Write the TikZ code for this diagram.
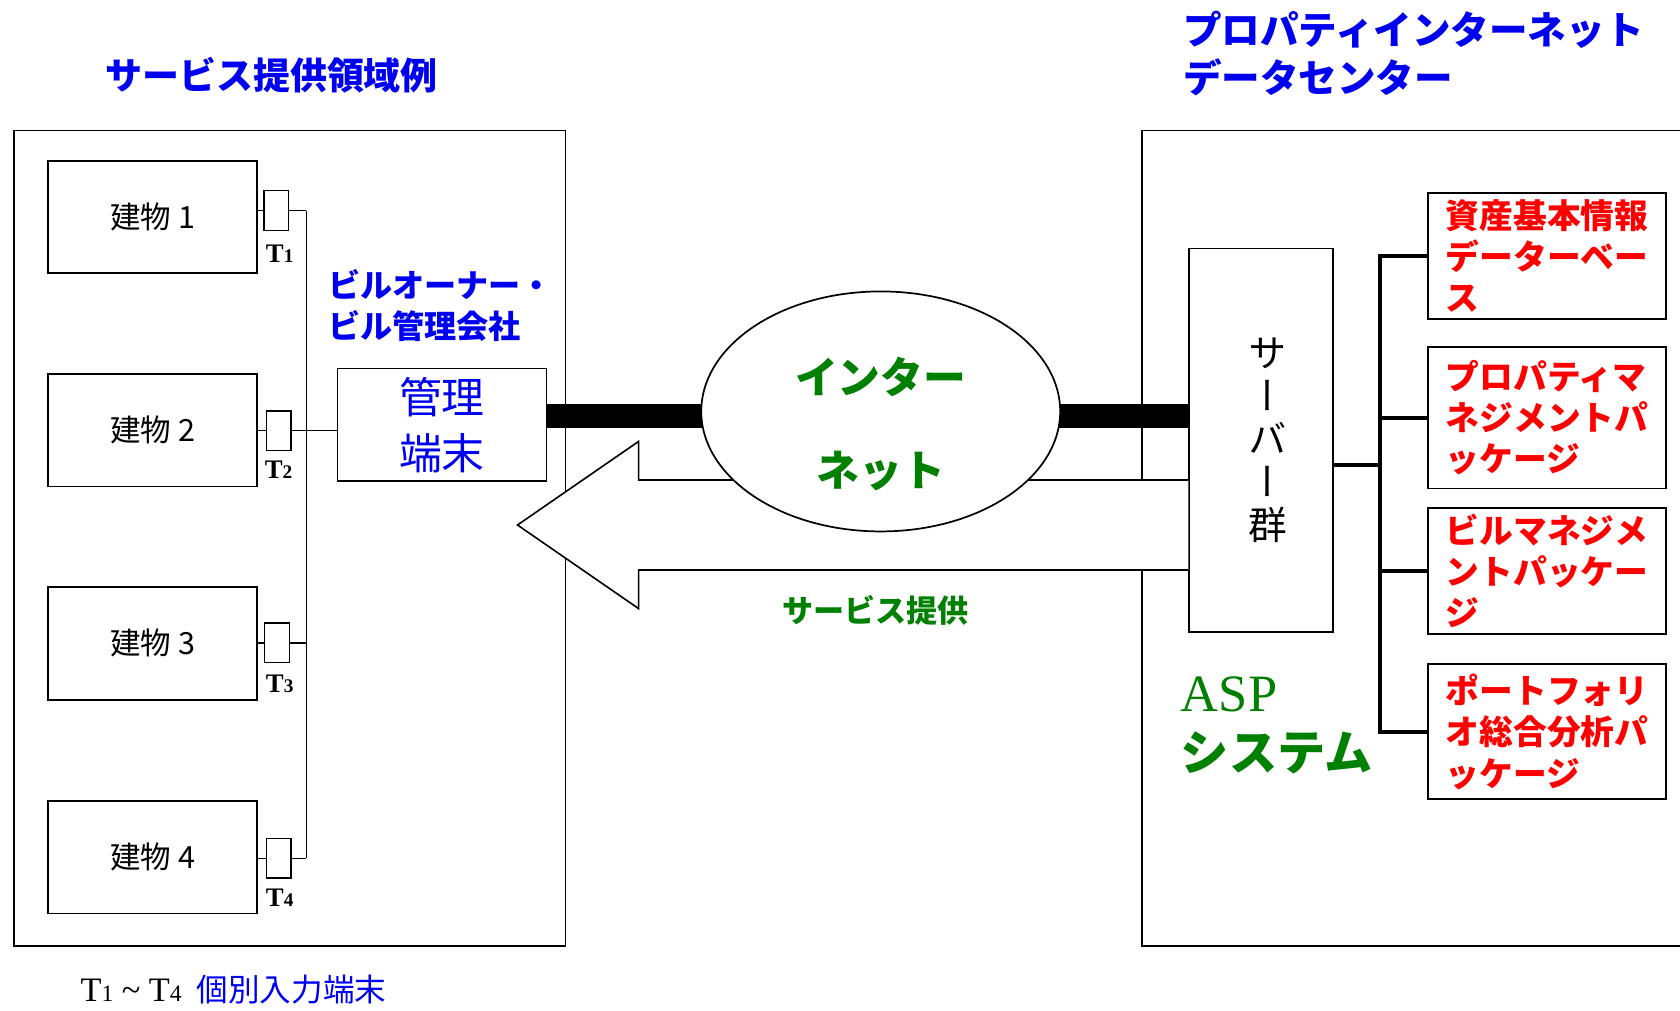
\documentclass[tikz,border=0pt]{standalone}
\usepackage{fontspec}
\setmainfont{Liberation Serif}
\newfontfamily\jp{Noto Sans CJK JP}
\newfontfamily\jpv[RawFeature=+vert]{Noto Sans CJK JP}
\usetikzlibrary{shapes.geometric}
\definecolor{jblue}{RGB}{0,0,240}
\definecolor{jred}{RGB}{255,0,0}
\definecolor{jgreen}{RGB}{0,128,0}
\newcommand\fsz[2]{\fontsize{#1}{#2}\selectfont}
\begin{document}
\begin{tikzpicture}[x=1pt,y=-1pt,
  boxst/.style={draw,line width=1.6pt,inner sep=0pt,fill=white},
  bldg/.style={boxst,minimum width=195pt,minimum height=105pt,font=\jp\fsz{28.5}{32}},
  term/.style={draw,line width=1.3pt,fill=white,minimum width=23pt,minimum height=37pt,inner sep=0pt},
  tlabel/.style={inner sep=0pt,font=\bfseries\fsz{25}{25}},
  wire/.style={line width=1.3pt},
  bar/.style={line width=22pt},
  branch/.style={line width=3.6pt},
  redbox/.style={boxst,minimum width=222pt,align=left,text=jred,font=\jp\bfseries\fsz{31.5}{38.5}},
  bluebold/.style={inner sep=0pt,align=left,text=jblue,font=\jp\bfseries\fsz{34.5}{44}},
  greenbold/.style={inner sep=0pt,text=jgreen,font=\jp\bfseries\fsz{40}{48}}
]
\useasboundingbox (0,0) rectangle (1568,943);

% containers
\node[boxst,anchor=north west,minimum width=515pt,minimum height=761pt] (leftarea) at (12,121) {};
\node[boxst,anchor=north west,minimum width=520pt,minimum height=761pt] (rightarea) at (1065,121) {};

% titles
\node[bluebold,anchor=west] (title1) at (98,70) {サービス提供領域例};
\node[bluebold,anchor=west,font=\jp\bfseries\fsz{36}{44}] (title2) at (1104,50) {プロパティインターネット\\データセンター};

% server box
\node[boxst,minimum width=134pt,minimum height=358pt] (srv) at (1177,411) {};

% big service arrow
\draw[line width=1.5pt,fill=white] (srv.west |- 0,448) -- (596,448) -- (596,412) -- (483,490)
  -- (596,568) -- (596,532) -- (srv.west |- 0,532);

% management terminal
\node[boxst,minimum width=195pt,minimum height=105pt,align=center,text=jblue,font=\jp\fsz{40}{52}] (kanri) at (412.5,396.5) {管理\\端末};

% internet ellipse and thick links
\coordinate (barL) at (kanri.east |- 0,388);
\coordinate (barR) at (srv.west |- 0,388);
\draw[bar] (barL) -- (822,388);
\draw[bar] (822,388) -- (barR);
\node[draw,ellipse,fill=white,line width=1.6pt,minimum width=335pt,minimum height=224pt] (net) at (822,384) {};
\node[greenbold] (net1) at (822,352) {インター};
\node[greenbold] (net2) at (822,440) {ネット};
\node[greenbold,font=\jp\bfseries\fsz{29}{29}] (svc) at (817,570) {サービス提供};

% owner label
\node[bluebold,anchor=west,font=\jp\bfseries\fsz{30}{38}] (owner) at (306,285) {ビルオーナー・\\ビル管理会社};

% buildings
\node[bldg] (b1) at (142.5,202.5) {建物 1};
\node[bldg] (b2) at (142.5,401.5) {建物 2};
\node[bldg] (b3) at (142.5,600.5) {建物 3};
\node[bldg] (b4) at (142.5,800) {建物 4};

% terminals
\node[term] (t1) at (258,196.5) {};
\node[term] (t2) at (260,402) {};
\node[term] (t3) at (258.5,600) {};
\node[term] (t4) at (260,801) {};
\node[tlabel] (l1) at (261,237) {T\fsz{18}{18}1};
\node[tlabel] (l2) at (260,438) {T\fsz{18}{18}2};
\node[tlabel] (l3) at (261,638) {T\fsz{18}{18}3};
\node[tlabel] (l4) at (261,838) {T\fsz{18}{18}4};

\coordinate (bus) at (286,0);
\foreach \i in {1,2,3,4}{
  \draw[wire] (b\i.east |- t\i) -- (t\i.west);
  \draw[wire] (t\i.east) -- (t\i.east -| bus);
}
\draw[wire] (t1.east -| bus) -- (t4.east -| bus);
\draw[wire] (t2.east -| bus) -- (kanri.west |- t2);

% server text
\node[inner sep=0pt,align=center,font=\jpv\fsz{36}{40}] (srvtxt) at (1183,411) {サ\\ー\\バ\\ー\\群};

% packages
\node[redbox] (r1) at (1444,239) [minimum height=118pt] {資産基本情報\\データーベー\\ス};
\node[redbox] (r2) at (1444,390) [minimum height=132pt] {プロパティマ\\ネジメントパ\\ッケージ};
\node[redbox] (r3) at (1444,533) [minimum height=118pt] {ビルマネジメ\\ントパッケー\\ジ};
\node[redbox] (r4) at (1444,683) [minimum height=126pt] {ポートフォリ\\オ総合分析パ\\ッケージ};

\coordinate (bb) at (1288,0);
\draw[branch] ([yshift=-23pt]srv.east) -- ([yshift=-23pt]srv.east -| bb);
\draw[branch] (r1.west) -- (r1.west -| bb) -- (r4.west -| bb) -- (r4.west);
\draw[branch] (r2.west) -- (r2.west -| bb);
\draw[branch] (r3.west) -- (r3.west -| bb);

% ASP system
\node[inner sep=0pt,anchor=west,text=jgreen,font=\fsz{49}{49}] (asp) at (1102,648) {ASP};
\node[inner sep=0pt,anchor=west,text=jgreen,font=\jp\bfseries\fsz{45}{45}] (aspsys) at (1102,703) {システム};

% footnote
\node[inner sep=0pt,anchor=west] (foot) at (75,924) {\fsz{32}{32}T\fsz{22}{22}1\fsz{32}{32} \textasciitilde{} T\fsz{22}{22}4\hspace{14pt}{\jp\color{jblue}\fsz{29.5}{29.5}個別入力端末}};
\end{tikzpicture}
\end{document}
